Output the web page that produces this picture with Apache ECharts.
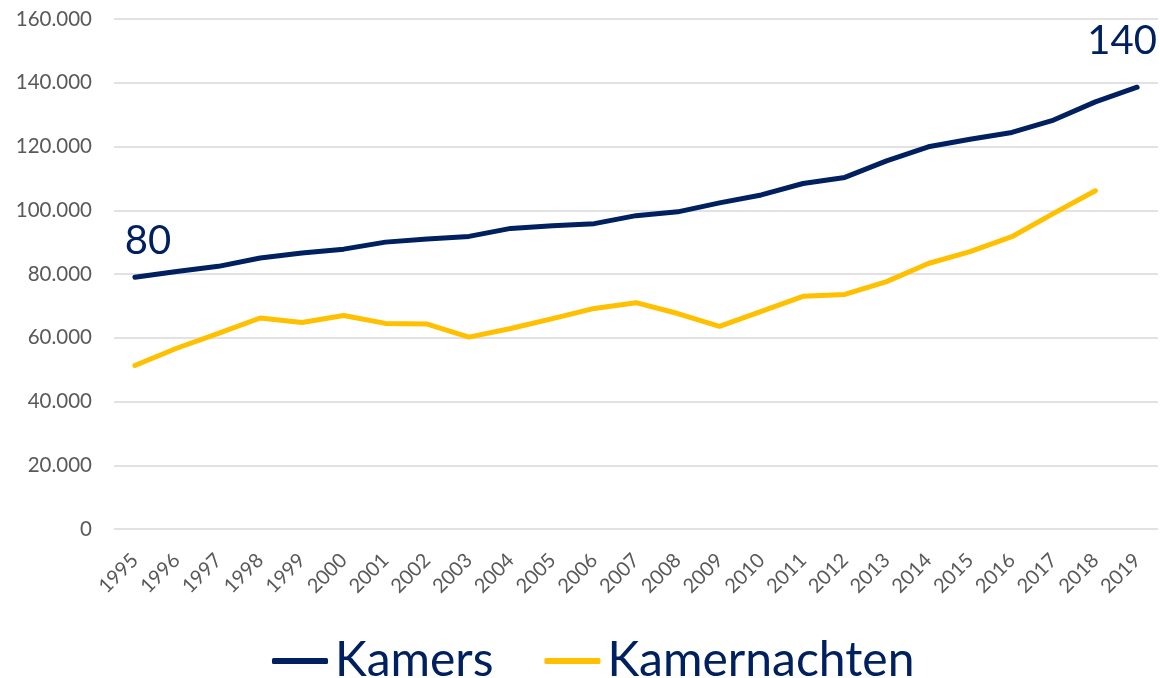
<!DOCTYPE html>
<html>
<head>
<meta charset="utf-8">
<script src="https://cdn.jsdelivr.net/npm/echarts@6/dist/echarts.min.js"></script>
<style>
  html, body { margin: 0; padding: 0; background: #fff; }
  #chart { width: 1160px; height: 678px; }
</style>
</head>
<body>
<div id="chart"></div>
<script>
const years = ['1995', '1996', '1997', '1998', '1999', '2000', '2001', '2002', '2003', '2004',
  '2005', '2006', '2007', '2008', '2009', '2010', '2011', '2012', '2013', '2014',
  '2015', '2016', '2017', '2018', '2019']
const kamers = [79000, 80800, 82400, 85000, 86600, 87800, 90000, 91000, 91800, 94300,
  95100, 95800, 98300, 99500, 102300, 104800, 108400, 110300, 115500, 119900,
  122300, 124400, 128300, 134000, 138600]
const kamernachten = [51300, 56700, 61400, 66200, 64800, 67000, 64500, 64300, 60200, 62900,
  66000, 69200, 71000, 67600, 63600, 68300, 73000, 73600, 77600, 83300,
  87000, 91700, 99000, 106100, null]
const yTicks = { min: 0, max: 160000, interval: 20000 }
const startLabel = '80'
const endLabel = '140'

const navy = '#002060'
const yellow = '#FFC000'
const font = 'Lato'

const fmt = (v) => String(v).replace(/\B(?=(\d{3})+(?!\d))/g, '.')

// only the first and last point carry a text label
const kamersData = kamers.map((v, i) => {
  if (i === 0) {
    return { value: v, label: { show: true, formatter: startLabel, offset: [13, -11] } }
  }
  if (i === kamers.length - 1) {
    return { value: v, label: { show: true, formatter: endLabel, offset: [-15, -21] } }
  }
  return v
})

const chart = echarts.init(document.getElementById('chart'))
chart.setOption({
  animation: false,
  textStyle: { fontFamily: font },
  grid: { left: 114, right: 2, top: 19, bottom: 149 },
  legend: {
    top: 632,
    left: 267,
    icon: 'roundRect',
    itemWidth: 56,
    itemHeight: 6,
    itemGap: 51,
    textStyle: { fontSize: 48, color: navy, fontFamily: font, padding: [0, 0, 0, 2] },
    data: ['Kamers', 'Kamernachten'],
  },
  xAxis: {
    type: 'category',
    data: years,
    boundaryGap: true,
    axisLine: { show: false },
    axisTick: { show: false },
    axisLabel: { rotate: 45, fontSize: 20, color: '#595959', margin: 28, interval: 0 },
  },
  yAxis: {
    type: 'value',
    min: yTicks.min,
    max: yTicks.max,
    interval: yTicks.interval,
    axisLine: { show: false },
    axisTick: { show: false },
    splitLine: { lineStyle: { color: '#d9d9d9', width: 1.5 } },
    axisLabel: { fontSize: 20.5, color: '#595959', margin: 22, formatter: fmt },
  },
  series: [
    {
      name: 'Kamers',
      type: 'line',
      data: kamersData,
      symbol: 'circle',
      symbolSize: 0,
      showSymbol: true,
      showAllSymbol: true,
      color: navy,
      lineStyle: { width: 5, color: navy, cap: 'round', join: 'round' },
      label: { position: 'top', fontSize: 40, color: navy, fontFamily: font },
    },
    {
      name: 'Kamernachten',
      type: 'line',
      data: kamernachten,
      symbol: 'none',
      color: yellow,
      lineStyle: { width: 5, color: yellow, cap: 'round', join: 'round' },
    },
  ],
})
</script>
</body>
</html>
